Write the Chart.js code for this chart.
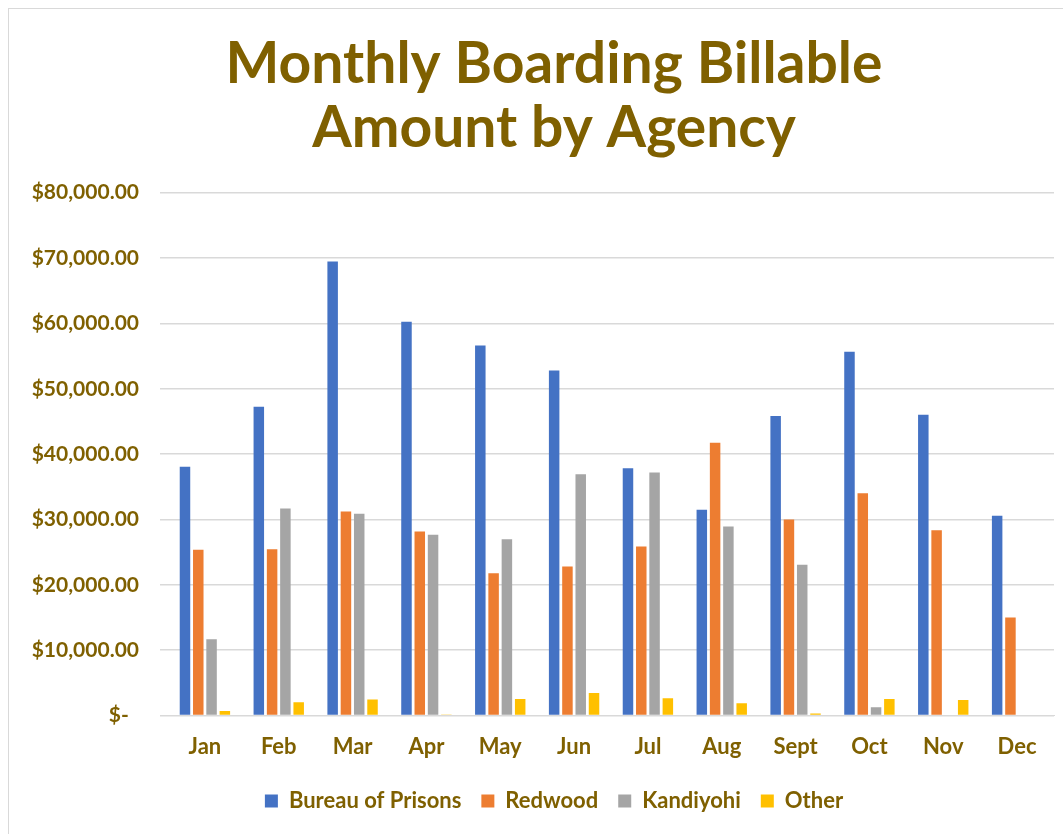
<!DOCTYPE html>
<html>
<head>
<meta charset="utf-8">
<script src="https://cdn.jsdelivr.net/npm/chart.js@4.4.0/dist/chart.umd.min.js"></script>
<style>
  html, body { margin: 0; padding: 0; background: #fff; }
  .frame { position: absolute; left: 8px; top: 8px; width: 1070px; height: 840px; border: 1px solid #d9d9d9; box-sizing: border-box; }
  .wrap { position: absolute; left: 0; top: 0; width: 1063px; height: 834px; }
</style>
</head>
<body>
<div class="frame"></div>
<div class="wrap"><canvas id="chart"></canvas></div>
<script>
const months = ['Jan', 'Feb', 'Mar', 'Apr', 'May', 'Jun', 'Jul', 'Aug', 'Sept', 'Oct', 'Nov', 'Dec'];
const bureauOfPrisons = [38060, 47240, 69490, 60260, 56630, 52810, 37860, 31480, 45820, 55660, 46020, 30560];
const redwood = [25360, 25460, 31220, 28160, 21790, 22810, 25870, 41730, 30000, 34030, 28370, 15000];
const kandiyohi = [11680, 31680, 30870, 27650, 26990, 36940, 37190, 28930, 23060, 1280, 0, 0];
const other = [710, 2040, 2450, 150, 2550, 3470, 2650, 1890, 310, 2550, 2400, 0];

const textColor = '#7f6000';
const labelFont = { family: 'Lato', size: 22, weight: 'bold' };

function money(v) {
  if (v === 0) return '$-  ';
  return '$' + v.toLocaleString('en-US', { minimumFractionDigits: 2, maximumFractionDigits: 2 });
}

// the original centres title + legend a bit right of the canvas middle
const centerShift = {
  id: 'centerShift',
  afterLayout(chart) {
    [chart.titleBlock, chart.legend].forEach(b => { if (b) b.left += 46; });
  }
};

new Chart(document.getElementById('chart'), {
  type: 'bar',
  data: {
    labels: months,
    datasets: [
      { label: 'Bureau of Prisons', data: bureauOfPrisons, backgroundColor: '#4472c4' },
      { label: 'Redwood', data: redwood, backgroundColor: '#ed7d31' },
      { label: 'Kandiyohi', data: kandiyohi, backgroundColor: '#a5a5a5' },
      { label: 'Other', data: other, backgroundColor: '#ffc000' }
    ]
  },
  plugins: [centerShift],
  options: {
    responsive: true,
    maintainAspectRatio: false,
    animation: false,
    datasets: { bar: { categoryPercentage: 0.72, barPercentage: 0.79 } },
    layout: { padding: { left: 8, right: 9, top: 14, bottom: 12 } },
    plugins: {
      title: {
        display: true,
        text: ['Monthly Boarding Billable', 'Amount by Agency'],
        color: textColor,
        font: { family: 'Lato', size: 57, weight: 'bold', lineHeight: 1.12 },
        padding: { top: 19, bottom: 32 }
      },
      legend: {
        position: 'bottom',
        labels: { color: textColor, font: labelFont, boxWidth: 13, boxHeight: 13, padding: 20 }
      },
      tooltip: { enabled: false }
    },
    scales: {
      x: {
        grid: { display: false },
        border: { color: '#d9d9d9' },
        ticks: { color: textColor, font: labelFont, padding: 10 }
      },
      y: {
        min: 0,
        max: 80000,
        afterFit: s => { s.width = 160; },
        grid: { color: '#d9d9d9', lineWidth: 1.5 },
        border: { display: false },
        ticks: { stepSize: 10000, color: textColor, font: { family: 'Lato', size: 21, weight: 'bold' }, padding: 21, callback: v => money(v) }
      }
    }
  }
});
</script>
</body>
</html>
